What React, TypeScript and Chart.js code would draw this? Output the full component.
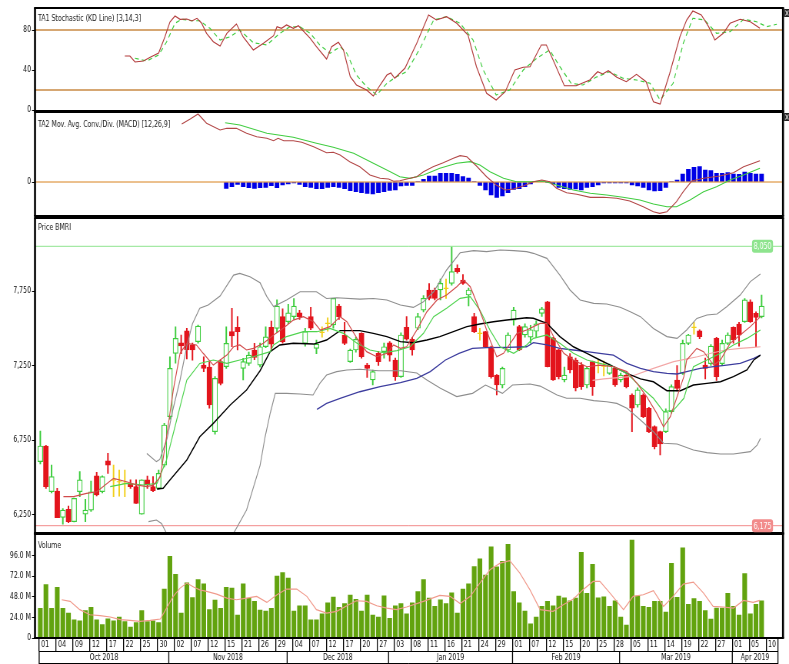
import React, { useEffect, useRef } from 'react';
import { Chart, registerables } from 'chart.js';

Chart.register(...registerables);

const W = 789;
const H = 664;
// the reference is a horizontally compressed screenshot: draw on a wider canvas, show it at 789px
const IW = 1026;
const SX = IW / W;
const FONT = "'Liberation Sans Narrow', 'DejaVu Sans Condensed', 'Liberation Sans', Arial, sans-serif";
const X_MIN = -0.94;
const X_MAX = 131.8;

// ---------- axis labels ----------
const dayTickLabels = ['01','04','09','12','17','22','25','30','02','07','12','15','21','26','29','04','07','12','17','20','27','03','08','11','16','21','24','29','01','07','12','15','20','25','28','05','11','14','19','22','27','01','05','10'];
const monthLabels = ['Oct 2018','Nov 2018','Dec 2018','Jan 2019','Feb 2019','Mar 2019','Apr 2019'];
const monthStarts = [0, 23, 44, 62, 84, 103, 123];
const MONTH_END = 130.9;
const stochTicks = [0, 40, 80];
const macdTicks = [0];
const priceTicks = [6250, 6750, 7250, 7750];
const volTicks = [0, 24, 48, 72, 96];

// ---------- price (OHLC) ----------
const open = [6605,6710,6403,6408,6231,6285,6202,6403,6253,6280,6509,6403,6611,6482,6470,6460,6455,6437,6253,6482,6437,6425,6582,6907,7332,7403,7482,7388,7410,7253,7240,6806,7276,7242,7477,7506,7231,7264,7354,7253,7376,7506,7499,7578,7544,7578,7604,7398,7578,7365,7472,7533,7522,7649,7455,7276,7354,7466,7253,7153,7332,7343,7403,7287,7175,7506,7426,7500,7622,7757,7757,7757,7768,7801,7902,7824,7723,7578,7466,7477,7376,7186,7119,7354,7555,7511,7455,7440,7480,7600,7678,7432,7355,7153,7309,7287,7253,7119,7276,7250,7245,7197,7231,7153,7186,7052,6985,7052,6963,6840,6806,6806,6940,7153,7197,7399,7506,7482,7253,7262,7432,7262,7399,7506,7528,7544,7678,7600,7578];
const high = [6810,6715,6582,6426,6290,6307,6360,6538,6352,6475,6533,6510,6660,6582,6548,6548,6482,6482,6482,6508,6504,6548,6862,7309,7510,7454,7500,7400,7522,7309,7276,7175,7290,7510,7634,7578,7298,7340,7399,7400,7510,7548,7690,7630,7660,7700,7620,7500,7640,7420,7510,7570,7701,7660,7540,7360,7440,7470,7265,7220,7345,7400,7410,7300,7470,7578,7440,7600,7720,7800,7770,7830,7830,8047,7925,7860,7770,7600,7500,7480,7380,7190,7240,7470,7640,7520,7530,7520,7550,7640,7680,7440,7360,7240,7330,7300,7270,7240,7280,7290,7280,7260,7240,7200,7190,7060,7100,7060,6970,6845,6810,6960,7120,7250,7420,7460,7540,7490,7300,7390,7440,7420,7470,7510,7540,7700,7690,7610,7723];
const low = [6590,6425,6395,6229,6186,6195,6200,6370,6202,6270,6375,6395,6526,6370,6374,6370,6425,6325,6253,6425,6403,6420,6570,6890,7265,7330,7295,7286,7400,7209,6963,6790,7120,7230,7376,7354,7153,7250,7290,7240,7370,7350,7470,7400,7530,7560,7560,7380,7490,7330,7440,7480,7500,7560,7390,7270,7340,7300,7170,7120,7250,7300,7280,7150,7170,7420,7320,7490,7610,7690,7690,7690,7700,7790,7870,7795,7650,7470,7420,7370,7165,7052,7100,7340,7520,7350,7440,7400,7440,7580,7240,7150,7160,7140,7200,7080,7090,7100,7050,7200,7180,7190,7110,7140,7100,6806,6970,6900,6800,6690,6650,6800,6930,7080,7190,7390,7460,7430,7160,7250,7150,7250,7390,7400,7380,7540,7540,7376,7570];
const close = [6710,6437,6504,6229,6280,6202,6358,6482,6280,6403,6381,6504,6582,6482,6470,6460,6437,6325,6482,6448,6410,6526,6851,7231,7432,7381,7354,7354,7515,7231,6985,7164,7130,7399,7448,7477,7276,7320,7305,7376,7443,7394,7649,7410,7604,7649,7578,7477,7500,7394,7472,7533,7701,7578,7399,7354,7426,7309,7231,7209,7276,7376,7320,7175,7455,7426,7354,7578,7701,7701,7701,7801,7768,7880,7880,7801,7757,7477,7466,7376,7175,7119,7231,7455,7622,7354,7511,7490,7530,7630,7242,7153,7175,7186,7220,7100,7108,7231,7108,7250,7245,7253,7119,7186,7108,6963,7086,6907,6806,6705,6723,6940,7108,7097,7399,7455,7506,7444,7231,7380,7175,7399,7455,7421,7455,7690,7544,7573,7649];
const PRICE_HIGH_LEVEL = 8050;
const PRICE_LOW_LEVEL = 6175;

// ---------- volume (millions) ----------
const volume = [34.4,62,34.4,59,34.4,29,21,20,32,35.6,21,15.5,22.4,20,24.4,19,12.8,17.8,32,19,20,17.8,57,94.8,74,29,64,47,68,63,33,44,34.4,59,58,26.7,63,46,42.6,32.5,31.3,34.4,72,76,69.7,31.3,37.5,37.5,21,21,28,41,47.6,35.6,40,50,45,31.3,50,26.7,24.4,49,23,37.5,40,28,41,54,68,46.4,36.8,44.5,40,52.6,29,57,63,83,92,73,106,82.8,89,109,54,41,31.3,16.6,24.4,36.8,42.6,37.5,48.8,46.8,43.3,46.4,99.5,51.9,85.5,46.8,48,36.8,43.3,24.4,15,113.8,48.8,36.8,35.6,42.6,42.6,30,86.7,47.2,104.9,39,45.7,42.6,32,22,34.8,34.8,51.9,36.8,26.7,75,28,39,43.3];
const volumeMA = [[3.8,44.5],[5.3,42.6],[7,33],[8.8,27],[10.6,26],[12.4,24.4],[14.2,21.3],[15.9,20.5],[17.7,19.4],[19.5,20.5],[21.3,22],[22.4,34.8],[23.6,48.4],[24.8,58],[26,63.9],[27.2,59.2],[28.3,56],[29.5,54.2],[31.3,51],[33.1,46.4],[34.8,44.5],[36.6,46.4],[38.4,48.4],[40.2,41.4],[42,50.3],[43.7,56.9],[45.5,56.9],[47.3,48.4],[49,33],[50.8,29],[52.6,31],[54.4,37.5],[56.1,43.3],[57.9,42.6],[59.7,37.5],[61.5,34.8],[63.2,33],[65,36],[68,42.6],[70.9,49.5],[72.7,48.4],[74.5,40],[76.3,48.4],[78,63.9],[79.8,79.3],[81.6,87],[83.3,90],[85.1,75.5],[86.9,56],[88.7,33],[91,31],[92.8,38.7],[94.6,45.3],[96.3,56],[98.1,65.8],[99.3,65.8],[101.1,52.2],[103.5,33],[105.2,48.4],[107,50.3],[108.8,55],[110.6,36.8],[112.3,48.4],[114.1,62.7],[115.9,65],[117.7,52.2],[119.4,36.8],[121.2,36],[123,34.8],[124.8,43.7],[126.5,41.4],[127.7,43.7]];

// ---------- price overlays: [bar index, price] ----------
const bbUpper = [[18.9,6660],[20.6,6605],[21.2,6620],[22.5,6760],[23.5,6950],[24.8,7153],[26,7380],[27,7530],[28.3,7634],[29.8,7656],[31.9,7716],[34.3,7857],[35.4,7868],[37.2,7846],[39,7805],[40.2,7712],[41.4,7645],[43.7,7690],[46.1,7745],[49,7745],[50.8,7700],[52.6,7705],[56.7,7696],[59.1,7700],[61.5,7690],[63.9,7656],[66.2,7640],[68,7678],[69.8,7745],[72.1,7891],[74.5,8007],[76.9,8021],[79.2,8014],[81.6,8025],[84,8021],[86.3,8014],[87.5,8003],[89.9,7969],[92.2,7857],[94,7757],[95.8,7690],[98.2,7667],[100.5,7663],[102.9,7641],[104.7,7611],[106.5,7578],[108.8,7499],[111.2,7444],[113,7432],[114.7,7488],[116.5,7566],[118.3,7589],[120.1,7596],[121.8,7645],[124.2,7723],[126,7813],[127.8,7864]];
const bbLower = [[19.2,6202],[20.6,6213],[21.5,6190],[22.4,6124],[23.5,6040],[26,5900],[29,5850],[32,5950],[34.3,6124],[36.6,6280],[39,6580],[39.9,6772],[40.8,6930],[41.7,7063],[43.7,7063],[46.1,7059],[48.4,7052],[49.6,7130],[50.8,7186],[52.6,7209],[54.4,7220],[56.7,7225],[60,7215],[64,7215],[66.8,7200],[68.6,7153],[71,7097],[73.9,7041],[76.7,7063],[79,7119],[80.2,7097],[82,7063],[83.8,7119],[86.9,7126],[88.7,7112],[91.7,7052],[93.4,7030],[95.8,7030],[98.2,7014],[100.5,7007],[102.3,6996],[104.1,6963],[106.5,6884],[108.8,6806],[110.6,6728],[113,6723],[115.9,6683],[118.3,6665],[120.7,6656],[123,6656],[126,6672],[127.2,6716],[127.8,6761]];
const maBlack = [[20.7,6421],[21.8,6426],[23,6482],[26,6616],[28.3,6772],[30.7,6862],[33.7,6985],[36.6,7086],[39,7215],[40.8,7343],[42.5,7388],[44.9,7399],[48.5,7394],[50.8,7421],[53.2,7484],[56.7,7484],[59.1,7466],[61.5,7444],[63.9,7410],[66.2,7403],[68.6,7421],[70.9,7444],[73.3,7477],[75.7,7511],[78,7529],[80.4,7544],[82.8,7555],[86.3,7571],[87.5,7567],[89.9,7533],[92.2,7444],[94.6,7376],[97,7332],[99.3,7287],[101.7,7242],[104.1,7197],[106.5,7160],[108.8,7141],[111.2,7081],[113.6,7081],[115.9,7119],[118.3,7130],[120.7,7141],[123,7175],[125.4,7220],[126.6,7287],[127.8,7320]];
const maBlue = [[49.1,6956],[50.8,6996],[53.2,7030],[56.7,7074],[60.3,7108],[63.9,7135],[66.8,7164],[69.2,7209],[71.9,7287],[74.3,7332],[76.7,7365],[79.2,7370],[82.8,7372],[86.3,7376],[87.5,7403],[89.9,7388],[92.2,7365],[94.6,7354],[97,7343],[99.3,7332],[101.7,7320],[104.1,7264],[106.5,7231],[108.8,7209],[111.2,7197],[113,7193],[114.7,7209],[117.1,7231],[119.5,7242],[121.8,7253],[124.2,7264],[126.6,7298],[127.8,7320]];
const maPink = [[98,7150],[100,7160],[104.7,7175],[108.8,7231],[112.4,7276],[116.6,7309],[119,7332],[121.6,7354],[124.2,7365],[126.6,7372],[127.8,7376]];
const maRed = [[4.1,6370],[5.9,6370],[8.2,6392],[10,6403],[13,6493],[15.3,6470],[17.1,6448],[18.9,6437],[20.1,6448],[21.3,6504],[22.4,6772],[23.6,7086],[24.8,7332],[26,7399],[27.7,7388],[28.9,7332],[30.7,7253],[31.9,7287],[33.1,7320],[34.3,7376],[35.4,7388],[36.6,7354],[37.8,7365],[39.6,7399],[41.4,7455],[43.1,7500],[44.9,7555],[46.7,7578],[48.5,7544],[49.7,7488],[51.4,7511],[53.2,7578],[54.4,7544],[56.2,7432],[57.9,7343],[59.7,7309],[61.5,7332],[62.7,7388],[63.9,7365],[65,7376],[66.8,7488],[68.6,7611],[70.4,7690],[72.1,7723],[73.9,7779],[75.1,7824],[76.3,7779],[77.5,7667],[78.6,7555],[79.8,7421],[81,7309],[82.2,7332],[83.4,7399],[84.6,7466],[86.3,7488],[88.7,7533],[89.9,7533],[91.1,7443],[92.9,7332],[94.6,7287],[97,7242],[99.3,7253],[101.7,7242],[104.1,7209],[105.9,7130],[107.6,7041],[109.4,6929],[110.6,6839],[111.8,6907],[113,7041],[114.2,7175],[114.7,7287],[116.5,7365],[117.7,7343],[119.5,7253],[120.7,7287],[122.4,7399],[124.2,7455],[126,7511],[127.8,7578]];
const maGreen = [[12.4,6437],[15.3,6459],[18.3,6448],[20.7,6459],[22.4,6616],[24.2,6884],[26,7153],[28.3,7264],[30.7,7287],[33.1,7264],[35.4,7287],[37.8,7309],[40.8,7343],[41.4,7388],[43.7,7444],[46.7,7477],[49.1,7477],[51.4,7499],[53.8,7466],[56.2,7399],[58.5,7354],[60.9,7336],[63.3,7350],[65.6,7376],[68,7466],[69.8,7578],[72.1,7634],[74.5,7701],[76.3,7712],[78,7622],[79.8,7488],[81.6,7376],[84,7332],[86.3,7388],[87.5,7432],[89.9,7455],[92.2,7399],[94.6,7332],[97,7287],[99.3,7264],[101.7,7242],[104.1,7197],[106.5,7108],[108.8,7030],[110.6,6940],[112.4,6951],[114.2,7030],[115.9,7242],[118.3,7287],[120.7,7332],[123,7388],[125.4,7432],[127.8,7488]];

// ---------- stochastic ----------
const stochK = [[15,54],[15.9,54],[16.8,48],[18.3,49],[19.5,52.7],[21,57],[22.1,73],[23,88],[23.9,94],[24.8,90.7],[26,91],[26.9,89],[27.8,91.7],[28.6,87],[29.5,76.7],[30.7,68.3],[31.9,64],[33.1,76.7],[34.8,86],[36,73],[37.8,60],[39.6,66.7],[41.4,74.3],[42,83.3],[42.8,81.7],[43.7,85],[44.9,81.7],[45.8,84.3],[47.9,71.7],[49,63.3],[50.8,51],[51.7,63.3],[52.9,67.7],[53.8,60],[55,33.3],[56.1,25],[57.9,20],[59.1,14],[60.3,25],[61.5,35],[62.2,37],[62.9,31.7],[64.7,41.7],[66.8,66.7],[68.9,95],[70.3,90],[72.1,93.3],[73.9,86.7],[75.9,75],[77.4,43.3],[79.2,16.7],[80.9,10],[82.5,18.3],[84.2,40],[85.7,42.7],[86.9,43.3],[88.9,65],[89.8,65],[91,50],[93,24.3],[95.1,24.3],[97.5,30],[98.9,38.3],[99.8,36],[100.8,39.3],[102.3,32.7],[104,28.3],[105.8,35.7],[107.5,28.3],[108.8,8.3],[110,6],[111.7,36.7],[113.5,73.3],[114.7,90],[115.8,99],[117.3,95],[118.6,83.3],[119.7,70],[121.2,76.7],[122.4,86.7],[124.2,90.7],[126,88.3],[127.7,81.7]];
const stochD = [[16.8,51.7],[18.9,49],[21,55],[22.4,68],[23.9,86.7],[25.1,90.7],[26.9,89.3],[28.3,89.3],[30.1,81.7],[31.9,70],[33.7,73.3],[35.4,80],[37.8,67.3],[40.2,65],[42.5,76.7],[44.3,83.3],[46.1,83.3],[47.9,76.7],[49.6,65],[51.4,56.7],[53.2,63.3],[54.4,56.7],[56.1,35],[57.9,23.3],[59.7,15],[61.5,26.7],[63.2,33.3],[65,38.3],[67.4,61.7],[69.8,90],[72.1,93.3],[74.5,86.7],[76.8,70],[78.6,40],[80.9,15],[83.3,20],[85.7,40],[88.1,51.7],[90.4,60],[92.2,43.3],[94.2,26.7],[96.3,25],[98.6,32.7],[101,38.3],[103.4,31.7],[105.8,30],[108.2,26.7],[110,10],[112.3,26.7],[114.1,66.7],[115.8,91.7],[117.9,90],[120,76.7],[122.4,78.3],[124.8,90.7],[127.1,88.3],[128.9,83.3],[130.7,85.7]];
const STOCH_UPPER = 80;
const STOCH_LOWER = 20;

// ---------- MACD ----------
const macdLine = [[25.1,58],[26.6,63],[28,68],[29.5,58.7],[31.9,52],[33.1,53.7],[34.8,53.7],[36.6,48.7],[38.4,45.3],[40.2,43.7],[41.4,41.3],[42.2,43.7],[43.2,41.3],[44.9,41.3],[46.4,39.7],[48.5,35.3],[50.8,29.3],[52,29.7],[53.2,27],[54.9,20.3],[56.7,15.3],[58.5,7],[60.3,3.7],[61.8,3],[62.7,0.8],[63.8,1.3],[65.6,3.7],[66.8,5.3],[68,10.3],[69.7,15.3],[71.5,19.3],[73.3,23.7],[74.5,26.3],[75.7,25.3],[77.4,16],[79.2,5.3],[80.9,-3],[82.5,-8],[84,-7],[85.7,-4],[87.5,0.3],[89,2],[90.4,0.3],[91.6,-6.3],[93.4,-10.7],[95.2,-12.3],[97.6,-15.3],[99.9,-15.3],[102.3,-16.3],[104.6,-19],[107,-24.7],[108.8,-29.7],[109.9,-31.3],[111.2,-29.7],[112.9,-19.7],[114.1,-9.7],[115.6,1],[117.7,3.7],[120.6,6],[123,9.3],[124.8,15.3],[126.5,18.7],[127.7,21.3]];
const macdSignal = [[32.8,59.3],[35.4,57],[40.2,48.7],[44.9,44.7],[49,38.7],[52,34.7],[55.6,28.7],[59.1,18.7],[62.1,10.3],[63.8,5.3],[65.6,3.7],[68,7],[70.9,13.7],[73.9,18.7],[76.3,20.3],[78,17],[79.8,10.3],[82.2,3.7],[84.5,0.3],[86.9,0.3],[89.3,1],[91.6,-3],[94.6,-8],[97.6,-11.3],[100.5,-13],[103.4,-15.3],[106.4,-18],[108.8,-22],[111.2,-24.7],[112.9,-24.7],[115.3,-18],[117.7,-9.7],[120,-4.7],[122.4,2],[124.8,7],[127.7,13.7]];
const macdHistStart = 33;
const macdHist = [-6.3,-4.7,-2.3,-4.7,-5.7,-6.3,-5.7,-5.3,-3.7,-5.7,-3,-2,-1,-2.3,-4.7,-5.3,-6.7,-6.7,-5.3,-4.7,-5.3,-6.7,-8.7,-9.7,-10.7,-11.3,-12,-10.7,-9.7,-8.5,-8,-4,-3.3,-3.3,0.5,2.7,6,6,8.7,8.7,8.7,7.7,5.3,4,0.5,-3.3,-8,-13,-15.3,-14,-10.7,-7.3,-6.7,-4.7,-2,0.5,0.5,-0.5,-2,-5.3,-6.7,-7.3,-7,-8,-5.3,-4.7,-3,-1,-1,-1,-1,-1,-3,-4,-5.3,-8,-9,-8.7,-5.3,0.5,2,8,12.7,14.7,15.3,12,11.3,8.7,8.7,9.3,8,7.7,10,8.7,8,8];
const MACD_ZERO = 0;

// ---------- colours ----------
const C_UP = '#3ccc3c';
const C_DOWN = '#e3141c';
const C_DOJI = '#f2cf1a';

const pts = (arr) => arr.map(([x, y]) => ({ x, y }));
const lineDs = (arr, color, order, extra = {}) => ({
  type: 'line', data: pts(arr), borderColor: color, borderWidth: 1.15, pointRadius: 0,
  fill: false, tension: 0, order, ...extra,
});
const levelDs = (v, color, order, width = 1) => lineDs([[X_MIN, v], [X_MAX, v]], color, order, { borderWidth: width });

const frame = {
  id: 'frame',
  afterDraw(chart) {
    const { ctx, chartArea: a } = chart;
    ctx.save();
    ctx.strokeStyle = '#000';
    ctx.lineWidth = 2;
    ctx.beginPath();
    ctx.moveTo(a.left - SX, a.top); ctx.lineTo(a.right + SX, a.top);
    ctx.moveTo(a.left - SX, a.bottom); ctx.lineTo(a.right + SX, a.bottom);
    ctx.stroke();
    ctx.lineWidth = 2 * SX;
    ctx.beginPath();
    ctx.moveTo(a.left, a.top); ctx.lineTo(a.left, a.bottom);
    ctx.moveTo(a.right, a.top); ctx.lineTo(a.right, a.bottom);
    ctx.stroke();
    ctx.restore();
  },
};

const titlePlugin = (text, dy, icon) => ({
  id: 'panelTitle',
  afterDraw(chart) {
    const { ctx, chartArea: a } = chart;
    ctx.save();
    ctx.font = `9px ${FONT}`;
    ctx.fillStyle = '#222';
    ctx.textBaseline = 'middle';
    ctx.textAlign = 'left';
    ctx.fillText(text, a.left + 3 * SX, a.top + dy);
    if (icon) {
      const x0 = a.right + SX;
      ctx.fillStyle = '#222';
      ctx.fillRect(x0, a.top + 1, 6 * SX, 8);
      ctx.strokeStyle = '#ddd';
      ctx.lineWidth = 1.2;
      ctx.beginPath();
      ctx.moveTo(x0 + 1.5 * SX, a.top + 2.5); ctx.lineTo(x0 + 4.5 * SX, a.top + 7.5);
      ctx.moveTo(x0 + 4.5 * SX, a.top + 2.5); ctx.lineTo(x0 + 1.5 * SX, a.top + 7.5);
      ctx.stroke();
    }
    ctx.restore();
  },
});

const priceTags = {
  id: 'priceTags',
  afterDraw(chart) {
    const { ctx, chartArea: a, scales } = chart;
    const tags = [[PRICE_HIGH_LEVEL, '#8ee48e'], [PRICE_LOW_LEVEL, '#f28b8b']];
    ctx.save();
    ctx.font = `9px ${FONT}`;
    ctx.textAlign = 'center';
    ctx.textBaseline = 'middle';
    tags.forEach(([v, col]) => {
      const y = scales.y.getPixelForValue(v);
      const x0 = a.right - 31 * SX;
      const w = 21 * SX;
      const h = 13;
      ctx.fillStyle = col;
      ctx.beginPath();
      ctx.roundRect(x0, y - h / 2, w, h, 3);
      ctx.fill();
      ctx.fillStyle = '#fff';
      ctx.fillText(v.toLocaleString('en-US'), x0 + w / 2, y + 0.5);
    });
    ctx.restore();
  },
};

const monthRow = {
  id: 'monthRow',
  afterDraw(chart) {
    const { ctx, chartArea: a, scales } = chart;
    const x = scales.x;
    const y0 = a.bottom + 13;
    const y1 = a.bottom + 25;
    const xs = monthStarts.map((s) => x.getPixelForValue(s - 0.2));
    const xe = x.getPixelForValue(MONTH_END);
    ctx.save();
    ctx.strokeStyle = '#000';
    ctx.lineWidth = 1;
    ctx.beginPath();
    ctx.moveTo(xs[0], y0 + 0.5); ctx.lineTo(xe, y0 + 0.5);
    ctx.moveTo(xs[0], y1 + 0.5); ctx.lineTo(xe, y1 + 0.5);
    ctx.stroke();
    ctx.lineWidth = SX;
    ctx.beginPath();
    [...xs, xe].forEach((px) => { ctx.moveTo(px, y0); ctx.lineTo(px, y1 + 1); });
    ctx.moveTo(xe, a.bottom); ctx.lineTo(xe, y0);
    ctx.stroke();
    ctx.font = `9px ${FONT}`;
    ctx.fillStyle = '#111';
    ctx.textAlign = 'center';
    ctx.textBaseline = 'middle';
    monthLabels.forEach((m, k) => {
      const l = xs[k];
      const r = k + 1 < xs.length ? xs[k + 1] : xe;
      ctx.fillText(m, (l + r) / 2, (y0 + y1) / 2 + 1);
    });
    ctx.restore();
  },
};

const yScale = (min, max, ticks, fmt) => ({
  type: 'linear', position: 'left', min, max,
  afterBuildTicks: (s) => { s.ticks = ticks.map((v) => ({ value: v })); },
  afterFit: (s) => { s.width = 35 * SX; s.paddingTop = 0; s.paddingBottom = 0; },
  ticks: { callback: (v) => fmt(v), color: '#111', font: { family: FONT, size: 9 }, padding: SX, autoSkip: false },
  grid: { display: true, drawOnChartArea: false, drawTicks: true, tickLength: 3 * SX, color: '#000' },
  border: { display: false },
});

const xHidden = { type: 'linear', min: X_MIN, max: X_MAX, display: false, offset: false };

const baseOptions = (padTop, padBottom, scales) => ({
  responsive: false,
  maintainAspectRatio: false,
  devicePixelRatio: 1,
  animation: false,
  events: [],
  layout: { padding: { left: 0, right: 6 * SX, top: padTop, bottom: padBottom } },
  scales,
  plugins: { legend: { display: false }, tooltip: { enabled: false } },
});

function stochConfig() {
  return {
    type: 'line',
    data: {
      datasets: [
        lineDs(stochK, '#b23a3a', 1),
        lineDs(stochD, '#3fcc3f', 2, { borderDash: [5, 4] }),
        levelDs(STOCH_UPPER, '#c98a45', 3, 1.5),
        levelDs(STOCH_LOWER, '#c98a45', 3, 1.5),
      ],
    },
    options: baseOptions(8, H - 111, { x: xHidden, y: yScale(-1, 102, stochTicks, (v) => String(v)) }),
    plugins: [frame, titlePlugin('TA1 Stochastic (KD Line) [3,14,3]', 10.5, true)],
  };
}

function macdConfig() {
  const idx = macdHist.map((_, k) => k + macdHistStart);
  return {
    type: 'bar',
    data: {
      datasets: [
        lineDs(macdLine, '#b24646', 1),
        lineDs(macdSignal, '#3fcc3f', 2),
        levelDs(MACD_ZERO, '#d8821e', 4),
        {
          type: 'bar', data: idx.map((i, k) => ({ x: i, y: macdHist[k] })), backgroundColor: '#0000e6',
          barThickness: 4 * SX, grouped: false, order: 5,
        },
      ],
    },
    options: baseOptions(112, H - 216, { x: xHidden, y: yScale(-34, 70, macdTicks, (v) => String(v)) }),
    plugins: [frame, titlePlugin('TA2 Mov. Avg. Conv./Div. (MACD) [12,26,9]', 13, true)],
  };
}

function priceConfig() {
  const idx = close.map((_, i) => i);
  const kind = idx.map((i) => (close[i] > open[i] ? 'up' : close[i] < open[i] ? 'down' : 'doji'));
  const col = (k) => (k === 'up' ? C_UP : k === 'down' ? C_DOWN : C_DOJI);
  const bodies = idx.filter((i) => kind[i] !== 'doji');
  const dojis = idx.filter((i) => kind[i] === 'doji');
  return {
    type: 'bar',
    data: {
      datasets: [
        lineDs(maRed, '#d14b4b', 1),
        lineDs(maGreen, '#4fd34f', 2),
        lineDs(maBlack, '#000000', 3, { borderWidth: 1.4 }),
        lineDs(maBlue, '#3d3d9e', 4, { borderWidth: 1.3 }),
        lineDs(maPink, '#f2a6a6', 5),
        lineDs(bbUpper, '#8e8e8e', 6),
        lineDs(bbLower, '#8e8e8e', 6),
        levelDs(PRICE_HIGH_LEVEL, '#8ee48e', 7),
        levelDs(PRICE_LOW_LEVEL, '#f28b8b', 7),
        {
          type: 'line', data: dojis.map((i) => ({ x: i, y: close[i] })), showLine: false,
          pointStyle: 'line', pointRadius: 3.2, pointBorderColor: C_DOJI, pointBorderWidth: 1.2, order: 8,
        },
        {
          type: 'bar', data: bodies.map((i) => ({ x: i, y: [open[i], close[i]] })),
          backgroundColor: bodies.map((i) => (kind[i] === 'up' ? '#ffffff' : C_DOWN)),
          borderColor: bodies.map((i) => col(kind[i])), borderWidth: 1.2, borderSkipped: false,
          barThickness: 5 * SX, grouped: false, order: 9,
        },
        {
          type: 'bar', data: idx.map((i) => ({ x: i, y: [low[i], high[i]] })),
          backgroundColor: idx.map((i) => col(kind[i])), barThickness: SX, grouped: false, order: 10,
        },
      ],
    },
    options: baseOptions(218, H - 533, {
      x: xHidden,
      y: yScale(6126, 8240, priceTicks, (v) => Number(v).toLocaleString('en-US')),
    }),
    plugins: [frame, titlePlugin('Price BMRI', 10, false), priceTags],
  };
}

function volumeConfig() {
  const idx = volume.map((_, i) => i);
  return {
    type: 'bar',
    data: {
      datasets: [
        lineDs(volumeMA, '#f09a8c', 1),
        {
          type: 'bar', data: idx.map((i) => ({ x: i, y: volume[i] })), backgroundColor: '#62a30f',
          barThickness: 4.2 * SX, grouped: false, order: 2,
        },
      ],
    },
    options: baseOptions(534, 0, {
      x: {
        type: 'linear', min: X_MIN, max: X_MAX, offset: false, position: 'bottom',
        afterBuildTicks: (s) => { s.ticks = dayTickLabels.map((_, k) => ({ value: k * 3 - 0.2 })); },
        afterFit: (s) => { s.height = 26; s.paddingLeft = 0; s.paddingRight = 0; },
        ticks: {
          callback: (v, k) => dayTickLabels[k], align: 'start', labelOffset: 2 * SX, padding: -12,
          maxRotation: 0, minRotation: 0, autoSkip: false, color: '#111', font: { family: FONT, size: 9 },
        },
        grid: { display: true, drawOnChartArea: false, drawTicks: true, tickLength: 13, color: '#000', lineWidth: SX, offset: false },
        border: { display: false },
      },
      y: yScale(0, 120.9, volTicks, (v) => (v === 0 ? '0' : `${Number(v).toFixed(1)} M`)),
    }),
    plugins: [frame, titlePlugin('Volume', 12, false), monthRow],
  };
}

export default function App() {
  const r1 = useRef(null);
  const r2 = useRef(null);
  const r3 = useRef(null);
  const r4 = useRef(null);
  useEffect(() => {
    const charts = [
      new Chart(r1.current, stochConfig() as any),
      new Chart(r2.current, macdConfig() as any),
      new Chart(r3.current, priceConfig() as any),
      new Chart(r4.current, volumeConfig() as any),
    ];
    return () => charts.forEach((c) => c.destroy());
  }, []);
  const cs = { position: 'absolute', left: 0, top: 0, width: W, height: H } as any;
  return (
    <div style={{ position: 'absolute', left: 0, top: 0, width: W, height: H, background: '#fff', overflow: 'hidden' }}>
      <canvas ref={r1} width={IW} height={H} style={cs} />
      <canvas ref={r2} width={IW} height={H} style={cs} />
      <canvas ref={r3} width={IW} height={H} style={cs} />
      <canvas ref={r4} width={IW} height={H} style={cs} />
    </div>
  );
}
